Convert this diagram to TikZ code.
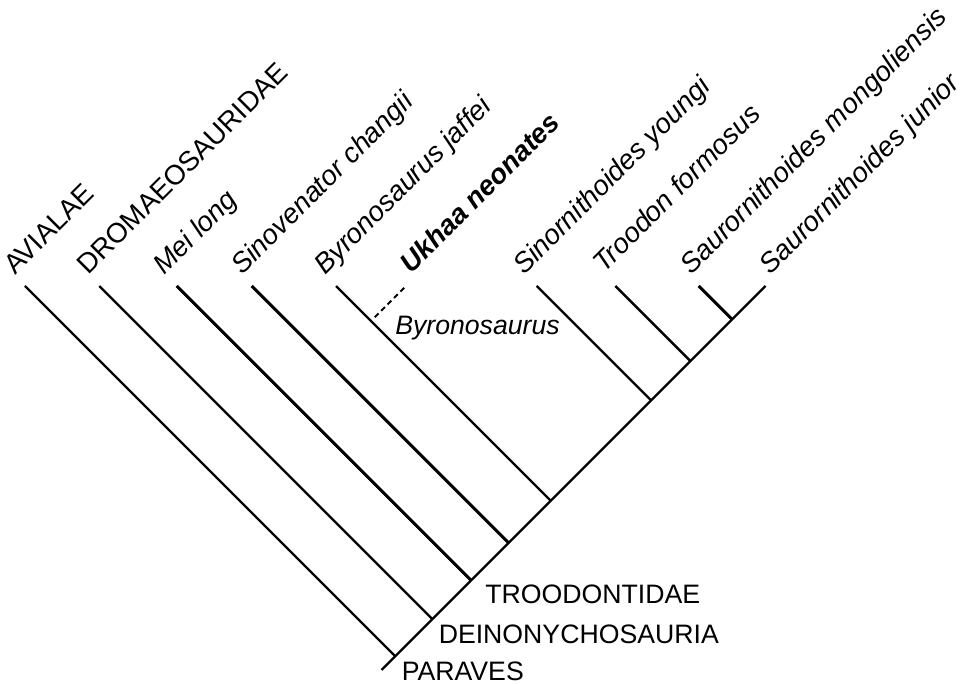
\documentclass[tikz,border=0pt]{standalone}
\usepackage{fontspec}
\setmainfont{Liberation Sans}
\begin{document}
\begin{tikzpicture}[x=0.75pt,y=-0.75pt,
  br/.style={line width=1.8pt},
  thk/.style={line width=2.3pt},
  lab/.style={rotate=45,anchor=base west,inner sep=0pt,font=\fontsize{20.8}{25}\selectfont},
  slab/.style={lab,font=\fontsize{20.8}{25}\selectfont\itshape},
  hlab/.style={anchor=base west,inner sep=0pt,font=\fontsize{20}{24}\selectfont}]
\useasboundingbox (0,0) rectangle (972,684);
% internal nodes on the spine (x+y = 1051.5)
\coordinate (root) at (381.5,670);
\coordinate (nPar) at (395.25,656.25);
\coordinate (nDei) at (432.4,619.1);
\coordinate (nTro) at (471.1,580.4);
\coordinate (nSv) at (508.6,542.9);
\coordinate (nBj) at (550.75,500.75);
\coordinate (nSy) at (651.1,400.4);
\coordinate (nTf) at (690.4,361.1);
\coordinate (nSm) at (732.1,319.4);
% tips
\coordinate (tAv) at (25,286);
\coordinate (tDr) at (99.3,286);
\coordinate (tMl) at (176.7,286);
\coordinate (tSv) at (251.7,286);
\coordinate (tBj) at (336,286);
\coordinate (tSy) at (536.7,286);
\coordinate (tTf) at (615.3,286);
\coordinate (tSm) at (698.7,286);
\coordinate (tSj) at (765.5,286);
\coordinate (tUk) at (406,286);
\coordinate (uk0) at (371,321);
% tree
\draw[br] (root) -- (tSj);
\draw[br] (tAv) -- (nPar);
\draw[br] (tDr) -- (nDei);
\draw[thk] (tMl) -- (nTro);
\draw[thk] (tSv) -- (nSv);
\draw[br] (tBj) -- (nBj);
\draw[br] (tSy) -- (nSy);
\draw[br] (tTf) -- (nTf);
\draw[thk] (tSm) -- (nSm);
\draw[line width=1.5pt,dash pattern=on 4pt off 2.8pt,shorten <=4pt] (uk0) -- (tUk);
% tip labels
\node[lab,text height=9pt] (lAv) at (15,276) {AVIALAE};
\node[lab] (lDr) at (88,276) {DROMAEOSAURIDAE};
\node[slab] (lMl) at (164,276) {Mei long};
\node[slab] (lSv) at (242,276) {Sinovenator changii};
\node[slab] (lBj) at (325,276) {Byronosaurus jaffei};
\node[lab,font=\fontsize{20.8}{25}\selectfont\bfseries\itshape] (lUk) at (411,275) {Ukhaa neonates};
\node[slab] (lSy) at (524,276) {Sinornithoides youngi};
\node[slab] (lTf) at (604,274) {Troodon formosus};
\node[slab,text height=10pt] (lSm) at (691,276) {Saurornithoides mongoliensis};
\node[slab] (lSj) at (770,276) {Saurornithoides junior};
% clade labels
\node[hlab,font=\fontsize{20}{24}\selectfont\itshape] (lBy) at (395,335) {Byronosaurus};
\node[hlab] (lTro) at (485,603.3) {TROODONTIDAE};
\node[hlab] (lDei) at (438.5,643.3) {DEINONYCHOSAURIA};
\node[hlab] (lPar) at (401.5,680) {PARAVES};
\end{tikzpicture}
\end{document}
